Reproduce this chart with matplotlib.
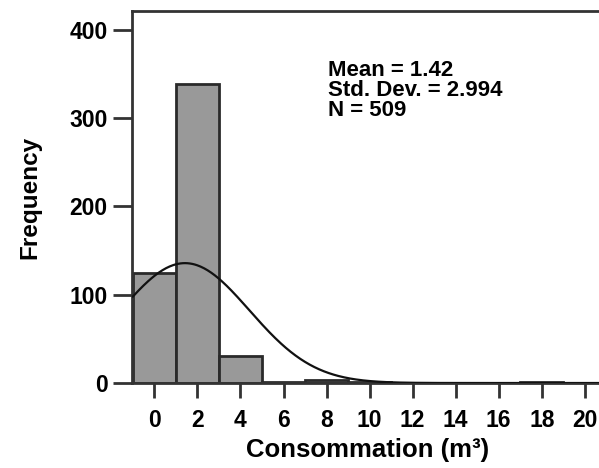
import numpy as np
import matplotlib
matplotlib.use("Agg")
import matplotlib.pyplot as plt

plt.rcParams["font.family"] = ["Liberation Sans", "DejaVu Sans"]
plt.rcParams["font.weight"] = "bold"

# histogram bins (width 2, centred on even values) and counts
bin_edges = np.arange(-1, 23, 2)
counts = [125, 338, 30, 1, 3, 1, 0, 0, 0, 1, 0]

# summary statistics shown on the chart
mean = 1.42
std_dev = 2.994
n_obs = 509
bin_width = 2

xticks = list(range(0, 21, 2))
yticks = [0, 100, 200, 300, 400]

fig = plt.figure(figsize=(5.99, 4.68), dpi=100)
ax = fig.add_axes([0.2204, 0.1816, 0.7796, 0.795])

ax.bar(bin_edges[:-1], counts, width=bin_width, align="edge",
       color="#999999", edgecolor="#2a2a2a", linewidth=2, zorder=2)

# fitted normal curve from the stated mean / sd / N
xs = np.linspace(-1, 21, 400)
pdf = np.exp(-0.5 * ((xs - mean) / std_dev) ** 2) / (std_dev * np.sqrt(2 * np.pi))
ax.plot(xs, n_obs * bin_width * pdf, color="#111111", linewidth=1.6, zorder=3)

ax.set_xlim(-1.04, 20.66)
ax.set_ylim(0, 421)
ax.set_xticks(xticks)
ax.set_yticks(yticks)
ax.tick_params(axis="both", labelsize=16.5, width=2, color="#333333")
ax.tick_params(axis="x", length=11, pad=8)
ax.tick_params(axis="y", length=14, pad=3.5)

for side in ["left", "bottom", "top"]:
    ax.spines[side].set_color("#333333")
    ax.spines[side].set_linewidth(2)
ax.spines["right"].set_visible(False)

ax.set_xlabel("Consommation (m³)", fontsize=18.5, fontweight="bold")
ax.xaxis.set_label_coords(0.505, -0.148)
ax.set_ylabel("Frequency", fontsize=17.5, fontweight="bold", labelpad=20)

ax.text(0.42, 0.868, f"Mean = {mean}\nStd. Dev. = {std_dev}\nN = {n_obs}",
        transform=ax.transAxes, ha="left", va="top", fontsize=16,
        fontweight="bold", linespacing=0.95)

fig.savefig("out.png", dpi=100)
